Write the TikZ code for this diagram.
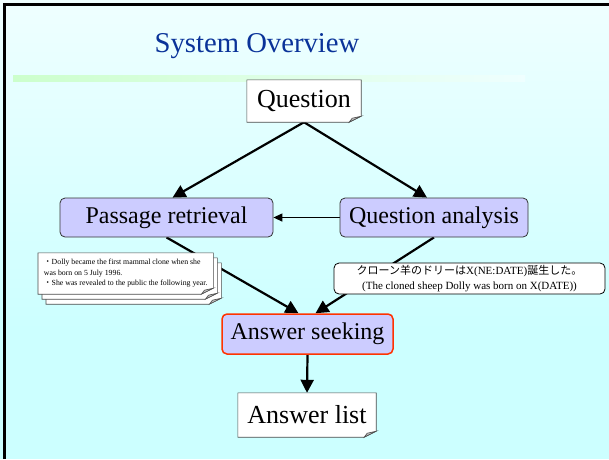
\documentclass[tikz,border=0pt]{standalone}
\usepackage{fontspec}
\setmainfont{Liberation Serif}
\newfontfamily\cjk{Noto Sans CJK JP}
\usetikzlibrary{arrows.meta,positioning,calc,backgrounds}
\definecolor{bgtop}{HTML}{EFFFFF}
\definecolor{bgbot}{HTML}{CCFFFF}
\definecolor{boxblue}{HTML}{CCCCFF}
\definecolor{seekred}{HTML}{FF3300}
\definecolor{titleblue}{HTML}{0A3399}
\definecolor{rulegreen}{HTML}{CCFFCC}
\tikzset{
  procbox/.style={draw=black!80, fill=boxblue, rounded corners=5pt, line width=0.8pt,
    inner sep=0pt, minimum height=39pt, font=\fontsize{24}{26}\selectfont},
  databox/.style={inner sep=0pt, minimum height=42pt, font=\fontsize{26}{28}\selectfont},
  docline/.style={draw=black!70, line width=0.6pt, fill=white},
  link/.style={->, line width=2.2pt},
}
% folded-corner outline behind a node, optional offset
\newcommand{\dogear}[2][(0,0)]{%
  \draw[docline] ($(#2.north west)+#1$) -- ($(#2.north east)+#1$)
    -- ($(#2.south east)+#1+(0,-6)$) -- ($(#2.south east)+#1+(-12,0)$)
    -- ($(#2.south west)+#1$) -- cycle;
  \draw[docline, fill=black!25] ($(#2.south east)+#1+(0,-6)$)
    -- ($(#2.south east)+#1+(-12,0)$) -- ($(#2.south east)+#1+(-9,-4)$) -- cycle;
}
\begin{document}
\begin{tikzpicture}[x=1pt, y=-1pt, >={Triangle[length=13pt,width=13pt]}]
\useasboundingbox (0,0) rectangle (609,459);

\node[text=titleblue, font=\fontsize{28.7}{30}\selectfont] (title) at (257,46) {System Overview};
\node[databox, minimum width=114pt] (question) at (304,101) {Question};
\node[procbox, minimum width=213pt] (passage) at (166.5,217.5) {Passage retrieval};
\node[procbox, minimum width=188pt] (analysis) at (434,217.5) {Question analysis};
\node[procbox, draw=seekred, line width=1.5pt, minimum width=171pt, minimum height=40pt] (seeking) at (307.5,334) {Answer seeking};
\node[databox, minimum width=138pt, minimum height=44pt] (answers) at (307,415) {Answer list};

% retrieved passages
\node[inner sep=0pt, inner xsep=4pt, minimum width=175pt, minimum height=41pt, align=left,
  font=\fontsize{7.8}{10.5}\selectfont, anchor=west] (docs) at (38,273.5)
  {{\cjk ・}Dolly became the first mammal clone when she\\
   was born on 5 July 1996.\\
   {\cjk ・}She was revealed to the public the following year.};
% analysed question
\node[draw, fill=white, rounded corners=5pt, line width=0.8pt, inner sep=0pt,
  minimum width=271pt, minimum height=31pt, align=center,
  font=\fontsize{11}{15}\selectfont] (clone) at (469.5,278.5)
  {{\cjk クローン羊のドリーは}X(NE:DATE){\cjk 誕生した。}\\
   (The cloned sheep Dolly was born on X(DATE))};

\begin{pgfonlayer}{background}
\shade[top color=bgtop, bottom color=bgbot] (0,0) rectangle (609,330);
\fill[bgbot] (0,329) rectangle (609,459);
\draw[line width=3pt] (4.5,459) -- (4.5,4.5) -- (609,4.5);
\shade[left color=rulegreen, right color=bgtop] (13,75) rectangle (525,81);

\draw[link] (question.south) -- ([xshift=6pt]passage.north);
\draw[link] (question.south) -- ([xshift=-7pt]analysis.north);
\draw[-{Triangle[length=9pt,width=8pt]}, line width=1.3pt] (analysis.west) -- (passage.east);
\draw[link] (passage.south) -- ([xshift=-9pt]seeking.north);
\draw[link] (analysis.south) -- ([xshift=8pt]seeking.north);
\draw[link] (seeking.south) -- (answers.north);

\dogear{question}
\dogear{answers}
\dogear[(8,10)]{docs}
\dogear[(4,5)]{docs}
\dogear{docs}
\end{pgfonlayer}
\end{tikzpicture}
\end{document}
